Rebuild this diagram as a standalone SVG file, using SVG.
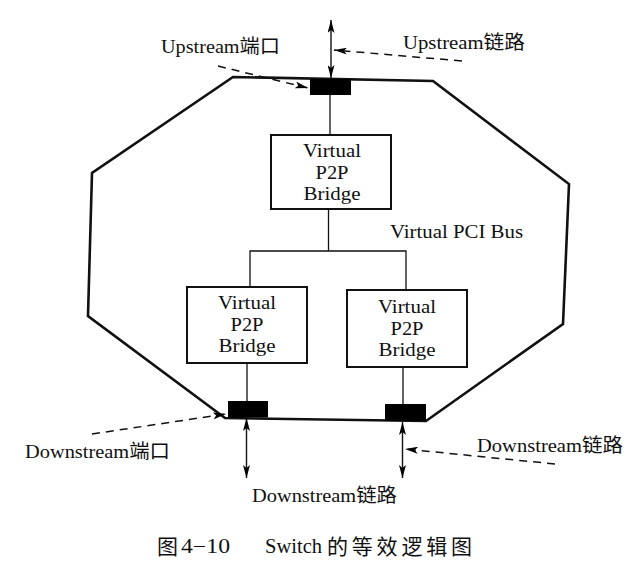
<svg xmlns="http://www.w3.org/2000/svg" width="636" height="569" viewBox="0 0 636 569">
<defs>
<marker id="ah" viewBox="0 0 13 7" refX="13" refY="3.5" markerWidth="13" markerHeight="7" markerUnits="userSpaceOnUse" orient="auto-start-reverse">
<path d="M0,0 L13,3.5 L0,7 L3,3.5 z" fill="#000"/>
</marker>
</defs>
<style>
.t{font-family:"Liberation Serif","Noto Sans CJK SC",serif;font-size:19px;fill:#111}
.c{font-family:"Liberation Serif","Noto Sans CJK SC",serif;font-size:20px;fill:#111}
.cj{font-family:"Noto Sans CJK SC",sans-serif;font-size:21px;fill:#111}
.box{fill:#fff;stroke:#111;stroke-width:2}
.port{fill:#000}
.ln{fill:none;stroke:#111;stroke-width:1.3}
.arr{fill:none;stroke:#111;stroke-width:1.4;marker-start:url(#ah);marker-end:url(#ah)}
.dash{fill:none;stroke:#111;stroke-width:1.5;stroke-dasharray:8 6;marker-end:url(#ah)}
</style>
<rect width="636" height="569" fill="#fff"/>
<g id="switch">
<polygon points="233,77 433,81 569,184 563,324 426,421 225,418 88,316 92,173" fill="none" stroke="#111" stroke-width="2.6" stroke-linejoin="miter"/>
</g>
<g id="connectors">
<line class="ln" x1="330" y1="95" x2="330" y2="135"/>
<polyline class="ln" points="328.5,209 328.5,251"/>
<polyline class="ln" points="250,287 250,251 406,251 406,290"/>
<line class="ln" x1="247" y1="363" x2="247" y2="401"/>
<line class="ln" x1="403" y1="367" x2="403" y2="404"/>
<line class="arr" x1="331" y1="20" x2="331" y2="78"/>
<line class="arr" x1="246.5" y1="418" x2="246.5" y2="478"/>
<line class="arr" x1="402.5" y1="422" x2="402.5" y2="478"/>
<line class="dash" x1="462" y1="61" x2="334" y2="50"/>
<line class="dash" x1="218" y1="66" x2="308" y2="88"/>
<line class="dash" x1="92" y1="434" x2="226" y2="414"/>
<line class="dash" x1="555" y1="464" x2="405" y2="449"/>
</g>
<g id="upstream-port"><rect class="port" x="310" y="79" width="41" height="16"/></g>
<g id="downstream-port-left"><rect class="port" x="228" y="401" width="40" height="16.5"/></g>
<g id="downstream-port-right"><rect class="port" x="385" y="404" width="41" height="17"/></g>
<g id="bridge-top">
<rect class="box" x="271" y="135" width="120" height="74"/>
<text class="t" x="332" y="157" text-anchor="middle" textLength="58" lengthAdjust="spacingAndGlyphs">Virtual</text>
<text class="t" x="332" y="179" text-anchor="middle" textLength="33" lengthAdjust="spacingAndGlyphs">P2P</text>
<text class="t" x="332" y="200" text-anchor="middle" textLength="57" lengthAdjust="spacingAndGlyphs">Bridge</text>
</g>
<g id="bridge-left">
<rect class="box" x="187" y="287" width="120" height="76"/>
<text class="t" x="247" y="309" text-anchor="middle" textLength="58" lengthAdjust="spacingAndGlyphs">Virtual</text>
<text class="t" x="247" y="331" text-anchor="middle" textLength="33" lengthAdjust="spacingAndGlyphs">P2P</text>
<text class="t" x="247" y="352" text-anchor="middle" textLength="57" lengthAdjust="spacingAndGlyphs">Bridge</text>
</g>
<g id="bridge-right">
<rect class="box" x="347" y="290" width="120" height="77"/>
<text class="t" x="407" y="313" text-anchor="middle" textLength="58" lengthAdjust="spacingAndGlyphs">Virtual</text>
<text class="t" x="407" y="335" text-anchor="middle" textLength="33" lengthAdjust="spacingAndGlyphs">P2P</text>
<text class="t" x="407" y="356" text-anchor="middle" textLength="57" lengthAdjust="spacingAndGlyphs">Bridge</text>
</g>
<g id="labels">
<text class="t" x="390" y="238" textLength="133" lengthAdjust="spacingAndGlyphs">Virtual PCI Bus</text>
<text class="t" x="161" y="53" textLength="119" lengthAdjust="spacingAndGlyphs">Upstream端口</text>
<text class="t" x="403" y="49" textLength="122" lengthAdjust="spacingAndGlyphs">Upstream链路</text>
<text class="t" x="25" y="458" textLength="145" lengthAdjust="spacingAndGlyphs">Downstream端口</text>
<text class="t" x="477" y="452" textLength="146" lengthAdjust="spacingAndGlyphs">Downstream链路</text>
<text class="t" x="252" y="502" textLength="145" lengthAdjust="spacingAndGlyphs">Downstream链路</text>
</g>
<g id="caption">
<text class="cj" x="157" y="554">图</text>
<text class="c" x="181" y="553" textLength="49" lengthAdjust="spacingAndGlyphs">4−10</text>
<text class="c" x="265" y="553" textLength="57" lengthAdjust="spacingAndGlyphs">Switch</text>
<text class="cj" x="327" y="554" textLength="145" lengthAdjust="spacing">的等效逻辑图</text>
</g>
</svg>
